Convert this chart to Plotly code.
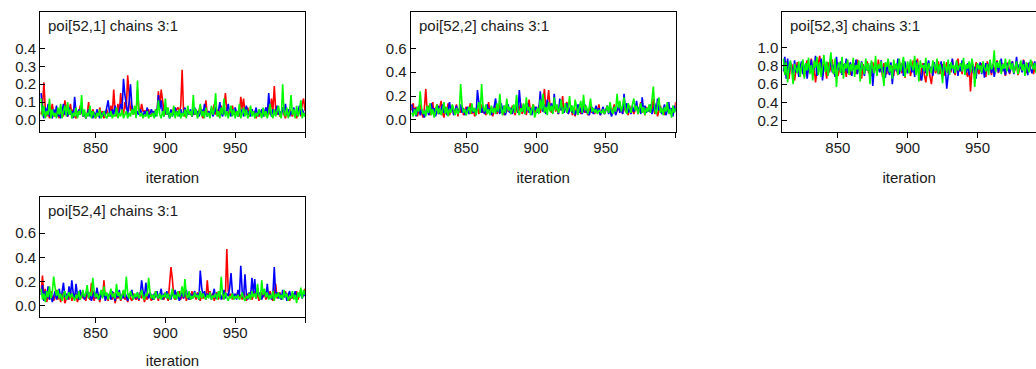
import plotly.graph_objects as go

# MCMC trace plots for poi[52,k], iterations 811-1000, three chains
iterations = list(range(811, 1001))

poi_52_1_chain1 = [
    0.03, 0.08, 0.21, 0.06, 0.02, 0.05, 0.01, 0.04, 0.09, 0.03,
    0.02, 0.06, 0.03, 0.01, 0.07, 0.04, 0.02, 0.11, 0.05, 0.02,
    0.04, 0.09, 0.03, 0.06, 0.02, 0.01, 0.05, 0.03, 0.08, 0.04,
    0.02, 0.05, 0.01, 0.03, 0.10, 0.04, 0.02, 0.06, 0.03, 0.01,
    0.04, 0.02, 0.07, 0.03, 0.05, 0.01, 0.03, 0.06, 0.02, 0.04,
    0.08, 0.03, 0.17, 0.05, 0.02, 0.09, 0.04, 0.15, 0.06, 0.03,
    0.10, 0.06, 0.25, 0.12, 0.05, 0.08, 0.03, 0.06, 0.02, 0.17,
    0.07, 0.04, 0.09, 0.05, 0.05, 0.05, 0.04, 0.06, 0.02, 0.03,
    0.05, 0.02, 0.06, 0.04, 0.16, 0.08, 0.17, 0.09, 0.05, 0.03,
    0.07, 0.04, 0.02, 0.05, 0.03, 0.07, 0.04, 0.06, 0.07, 0.04,
    0.08, 0.28, 0.05, 0.02, 0.04, 0.06, 0.03, 0.05, 0.02, 0.04,
    0.03, 0.06, 0.02, 0.05, 0.08, 0.03, 0.01, 0.04, 0.11, 0.03,
    0.05, 0.02, 0.07, 0.04, 0.09, 0.03, 0.06, 0.02, 0.05, 0.08,
    0.04, 0.07, 0.15, 0.05, 0.02, 0.06, 0.03, 0.08, 0.04, 0.06,
    0.03, 0.05, 0.02, 0.13, 0.06, 0.12, 0.04, 0.03, 0.07, 0.02,
    0.04, 0.06, 0.03, 0.05, 0.01, 0.04, 0.02, 0.05, 0.03, 0.06,
    0.02, 0.07, 0.04, 0.09, 0.03, 0.12, 0.05, 0.19, 0.06, 0.03,
    0.05, 0.02, 0.04, 0.07, 0.03, 0.01, 0.05, 0.02, 0.06, 0.04,
    0.02, 0.05, 0.03, 0.01, 0.04, 0.07, 0.02, 0.09, 0.12, 0.05,
]
poi_52_1_chain2 = [
    0.15, 0.04, 0.01, 0.07, 0.03, 0.09, 0.02, 0.05, 0.01, 0.06,
    0.03, 0.08, 0.02, 0.04, 0.01, 0.06, 0.09, 0.03, 0.05, 0.02,
    0.07, 0.03, 0.05, 0.01, 0.13, 0.04, 0.02, 0.06, 0.03, 0.08,
    0.02, 0.04, 0.01, 0.03, 0.06, 0.02, 0.05, 0.01, 0.04, 0.02,
    0.06, 0.03, 0.01, 0.04, 0.02, 0.05, 0.03, 0.07, 0.11, 0.04,
    0.02, 0.06, 0.03, 0.08, 0.04, 0.02, 0.05, 0.09, 0.06, 0.23,
    0.14, 0.07, 0.03, 0.10, 0.20, 0.08, 0.04, 0.06, 0.02, 0.05,
    0.03, 0.06, 0.04, 0.02, 0.05, 0.03, 0.07, 0.02, 0.04, 0.06,
    0.03, 0.05, 0.02, 0.04, 0.14, 0.06, 0.11, 0.04, 0.02, 0.07,
    0.03, 0.05, 0.01, 0.06, 0.02, 0.04, 0.07, 0.03, 0.05, 0.02,
    0.06, 0.03, 0.04, 0.07, 0.02, 0.05, 0.03, 0.06, 0.02, 0.04,
    0.07, 0.03, 0.05, 0.02, 0.04, 0.06, 0.03, 0.09, 0.04, 0.02,
    0.05, 0.03, 0.06, 0.02, 0.04, 0.07, 0.03, 0.05, 0.10, 0.04,
    0.02, 0.06, 0.03, 0.05, 0.09, 0.04, 0.02, 0.06, 0.03, 0.07,
    0.04, 0.02, 0.05, 0.03, 0.06, 0.02, 0.04, 0.08, 0.03, 0.05,
    0.02, 0.06, 0.03, 0.04, 0.07, 0.02, 0.05, 0.03, 0.06, 0.02,
    0.04, 0.07, 0.03, 0.15, 0.05, 0.02, 0.06, 0.03, 0.04, 0.08,
    0.03, 0.05, 0.02, 0.07, 0.04, 0.09, 0.03, 0.06, 0.02, 0.05,
    0.03, 0.07, 0.02, 0.05, 0.04, 0.08, 0.03, 0.06, 0.04, 0.02,
]
poi_52_1_chain3 = [
    0.12, 0.02, 0.08, 0.01, 0.05, 0.03, 0.12, 0.01, 0.06, 0.02,
    0.04, 0.01, 0.07, 0.03, 0.09, 0.01, 0.05, 0.08, 0.02, 0.10,
    0.03, 0.06, 0.01, 0.04, 0.02, 0.07, 0.01, 0.05, 0.03, 0.14,
    0.02, 0.06, 0.01, 0.04, 0.02, 0.08, 0.01, 0.05, 0.03, 0.01,
    0.04, 0.02, 0.06, 0.01, 0.03, 0.05, 0.02, 0.01, 0.04, 0.02,
    0.05, 0.01, 0.03, 0.02, 0.07, 0.01, 0.04, 0.02, 0.06, 0.01,
    0.03, 0.05, 0.01, 0.04, 0.02, 0.06, 0.03, 0.08, 0.01, 0.22,
    0.05, 0.02, 0.04, 0.01, 0.03, 0.02, 0.05, 0.01, 0.03, 0.02,
    0.04, 0.01, 0.06, 0.02, 0.11, 0.03, 0.01, 0.05, 0.02, 0.12,
    0.03, 0.07, 0.01, 0.04, 0.02, 0.08, 0.01, 0.05, 0.02, 0.06,
    0.01, 0.04, 0.02, 0.06, 0.01, 0.08, 0.03, 0.05, 0.02, 0.14,
    0.03, 0.06, 0.01, 0.04, 0.09, 0.02, 0.05, 0.01, 0.07, 0.02,
    0.04, 0.01, 0.08, 0.03, 0.06, 0.15, 0.02, 0.05, 0.01, 0.07,
    0.03, 0.12, 0.02, 0.05, 0.01, 0.04, 0.08, 0.02, 0.06, 0.01,
    0.05, 0.02, 0.09, 0.01, 0.04, 0.07, 0.02, 0.06, 0.01, 0.03,
    0.08, 0.02, 0.05, 0.01, 0.04, 0.02, 0.06, 0.03, 0.01, 0.07,
    0.02, 0.05, 0.01, 0.04, 0.09, 0.03, 0.01, 0.06, 0.02, 0.05,
    0.08, 0.03, 0.01, 0.20, 0.04, 0.02, 0.07, 0.01, 0.05, 0.14,
    0.03, 0.06, 0.01, 0.08, 0.02, 0.05, 0.11, 0.01, 0.04, 0.02,
]

poi_52_2_chain1 = [
    0.08, 0.14, 0.05, 0.11, 0.03, 0.09, 0.13, 0.06, 0.02, 0.10,
    0.26, 0.07, 0.12, 0.04, 0.09, 0.15, 0.03, 0.08, 0.13, 0.05,
    0.10, 0.16, 0.06, 0.02, 0.11, 0.07, 0.14, 0.04, 0.09, 0.12,
    0.05, 0.08, 0.13, 0.03, 0.10, 0.06, 0.12, 0.04, 0.08, 0.11,
    0.06, 0.09, 0.14, 0.05, 0.10, 0.03, 0.07, 0.12, 0.05, 0.09,
    0.13, 0.06, 0.10, 0.04, 0.08, 0.15, 0.06, 0.11, 0.03, 0.09,
    0.12, 0.05, 0.08, 0.14, 0.06, 0.10, 0.04, 0.09, 0.13, 0.07,
    0.10, 0.05, 0.12, 0.08, 0.04, 0.11, 0.06, 0.09, 0.14, 0.05,
    0.08, 0.12, 0.04, 0.10, 0.17, 0.06, 0.09, 0.13, 0.05, 0.11,
    0.07, 0.12, 0.06, 0.10, 0.16, 0.26, 0.08, 0.14, 0.25, 0.11,
    0.06, 0.09, 0.14, 0.07, 0.11, 0.05, 0.13, 0.08, 0.20, 0.06,
    0.10, 0.15, 0.05, 0.09, 0.12, 0.04, 0.08, 0.03, 0.11, 0.07,
    0.13, 0.05, 0.09, 0.16, 0.06, 0.10, 0.04, 0.08, 0.12, 0.06,
    0.09, 0.05, 0.11, 0.07, 0.13, 0.04, 0.08, 0.10, 0.05, 0.09,
    0.12, 0.06, 0.10, 0.04, 0.08, 0.13, 0.05, 0.09, 0.11, 0.07,
    0.10, 0.05, 0.14, 0.07, 0.09, 0.04, 0.12, 0.06, 0.10, 0.05,
    0.08, 0.12, 0.05, 0.10, 0.15, 0.06, 0.09, 0.04, 0.11, 0.07,
    0.12, 0.06, 0.09, 0.18, 0.05, 0.10, 0.03, 0.08, 0.12, 0.06,
    0.09, 0.04, 0.11, 0.07, 0.13, 0.05, 0.08, 0.10, 0.06, 0.15,
]
poi_52_2_chain2 = [
    0.13, 0.05, 0.10, 0.03, 0.08, 0.12, 0.04, 0.09, 0.06, 0.02,
    0.07, 0.11, 0.04, 0.09, 0.14, 0.06, 0.10, 0.03, 0.08, 0.12,
    0.05, 0.09, 0.13, 0.06, 0.10, 0.04, 0.08, 0.15, 0.07, 0.11,
    0.04, 0.08, 0.12, 0.05, 0.09, 0.13, 0.06, 0.10, 0.04, 0.07,
    0.11, 0.05, 0.08, 0.12, 0.06, 0.10, 0.04, 0.25, 0.15, 0.09,
    0.06, 0.12, 0.05, 0.09, 0.13, 0.07, 0.10, 0.04, 0.08, 0.11,
    0.18, 0.07, 0.10, 0.05, 0.14, 0.08, 0.12, 0.04, 0.09, 0.13,
    0.06, 0.10, 0.05, 0.12, 0.08, 0.16, 0.06, 0.25, 0.11, 0.07,
    0.13, 0.05, 0.09, 0.14, 0.06, 0.10, 0.04, 0.12, 0.08, 0.11,
    0.06, 0.09, 0.24, 0.10, 0.07, 0.13, 0.05, 0.17, 0.11, 0.08,
    0.14, 0.06, 0.22, 0.09, 0.12, 0.05, 0.18, 0.08, 0.11, 0.06,
    0.10, 0.14, 0.05, 0.08, 0.12, 0.06, 0.10, 0.04, 0.09, 0.13,
    0.06, 0.10, 0.05, 0.08, 0.13, 0.06, 0.09, 0.04, 0.08, 0.11,
    0.05, 0.09, 0.12, 0.06, 0.10, 0.04, 0.07, 0.11, 0.05, 0.08,
    0.12, 0.05, 0.09, 0.03, 0.07, 0.11, 0.04, 0.08, 0.12, 0.06,
    0.10, 0.05, 0.22, 0.08, 0.14, 0.06, 0.10, 0.05, 0.12, 0.07,
    0.09, 0.16, 0.06, 0.11, 0.05, 0.19, 0.08, 0.12, 0.06, 0.10,
    0.07, 0.13, 0.05, 0.09, 0.14, 0.06, 0.18, 0.08, 0.11, 0.05,
    0.09, 0.13, 0.04, 0.08, 0.15, 0.06, 0.10, 0.03, 0.12, 0.07,
]
poi_52_2_chain3 = [
    0.06, 0.03, 0.09, 0.04, 0.11, 0.07, 0.24, 0.10, 0.05, 0.08,
    0.03, 0.12, 0.06, 0.14, 0.04, 0.09, 0.02, 0.07, 0.13, 0.05,
    0.10, 0.04, 0.08, 0.15, 0.05, 0.11, 0.03, 0.09, 0.06, 0.13,
    0.07, 0.04, 0.10, 0.05, 0.08, 0.30, 0.12, 0.06, 0.09, 0.04,
    0.08, 0.11, 0.05, 0.14, 0.07, 0.10, 0.04, 0.09, 0.15, 0.06,
    0.30, 0.11, 0.07, 0.13, 0.05, 0.09, 0.04, 0.12, 0.06, 0.10,
    0.05, 0.14, 0.07, 0.22, 0.09, 0.04, 0.12, 0.06, 0.18, 0.08,
    0.11, 0.05, 0.09, 0.13, 0.06, 0.21, 0.08, 0.04, 0.10, 0.07,
    0.14, 0.05, 0.19, 0.08, 0.11, 0.04, 0.09, 0.13, 0.02, 0.07,
    0.10, 0.05, 0.17, 0.08, 0.22, 0.06, 0.11, 0.04, 0.15, 0.07,
    0.12, 0.05, 0.19, 0.08, 0.13, 0.06, 0.10, 0.17, 0.05, 0.09,
    0.14, 0.06, 0.10, 0.20, 0.07, 0.12, 0.05, 0.17, 0.09, 0.04,
    0.11, 0.16, 0.06, 0.21, 0.08, 0.12, 0.05, 0.10, 0.18, 0.07,
    0.10, 0.06, 0.09, 0.05, 0.08, 0.07, 0.06, 0.09, 0.05, 0.08,
    0.12, 0.06, 0.15, 0.08, 0.05, 0.11, 0.07, 0.22, 0.10, 0.16,
    0.07, 0.12, 0.19, 0.08, 0.05, 0.14, 0.09, 0.06, 0.13, 0.18,
    0.08, 0.12, 0.05, 0.09, 0.14, 0.06, 0.11, 0.04, 0.10, 0.07,
    0.13, 0.06, 0.17, 0.28, 0.09, 0.05, 0.12, 0.19, 0.06, 0.10,
    0.04, 0.11, 0.07, 0.15, 0.05, 0.09, 0.02, 0.12, 0.06, 0.10,
]

poi_52_3_chain1 = [
    0.80, 0.72, 0.85, 0.68, 0.66, 0.78, 0.82, 0.70, 0.64, 0.76,
    0.84, 0.79, 0.71, 0.83, 0.75, 0.68, 0.81, 0.86, 0.73, 0.77,
    0.88, 0.70, 0.79, 0.62, 0.74, 0.85, 0.91, 0.76, 0.69, 0.82,
    0.78, 0.66, 0.84, 0.73, 0.80, 0.87, 0.71, 0.77, 0.83, 0.69,
    0.75, 0.81, 0.86, 0.72, 0.79, 0.68, 0.84, 0.77, 0.70, 0.82,
    0.76, 0.83, 0.71, 0.87, 0.74, 0.79, 0.66, 0.82, 0.75, 0.80,
    0.85, 0.72, 0.78, 0.69, 0.84, 0.76, 0.81, 0.70, 0.87, 0.74,
    0.79, 0.68, 0.83, 0.75, 0.71, 0.86, 0.77, 0.73, 0.80, 0.69,
    0.82, 0.76, 0.70, 0.85, 0.78, 0.72, 0.84, 0.67, 0.79, 0.74,
    0.81, 0.69, 0.76, 0.86, 0.73, 0.80, 0.88, 0.71, 0.64, 0.77,
    0.83, 0.70, 0.62, 0.75, 0.81, 0.68, 0.60, 0.74, 0.79, 0.72,
    0.78, 0.85, 0.71, 0.77, 0.82, 0.69, 0.75, 0.84, 0.72, 0.79,
    0.73, 0.87, 0.76, 0.70, 0.82, 0.88, 0.74, 0.79, 0.71, 0.84,
    0.77, 0.72, 0.68, 0.82, 0.52, 0.75, 0.80, 0.70, 0.84, 0.76,
    0.71, 0.79, 0.83, 0.73, 0.78, 0.68, 0.85, 0.76, 0.81, 0.70,
    0.82, 0.75, 0.79, 0.86, 0.72, 0.80, 0.74, 0.83, 0.77, 0.69,
    0.78, 0.84, 0.71, 0.80, 0.85, 0.73, 0.79, 0.82, 0.70, 0.76,
    0.81, 0.74, 0.87, 0.78, 0.72, 0.83, 0.76, 0.80, 0.85, 0.71,
    0.77, 0.82, 0.74, 0.79, 0.86, 0.73, 0.80, 0.84, 0.75, 0.81,
]
poi_52_3_chain2 = [
    0.74, 0.90, 0.66, 0.88, 0.72, 0.84, 0.77, 0.70, 0.86, 0.73,
    0.81, 0.68, 0.79, 0.85, 0.71, 0.77, 0.83, 0.66, 0.80, 0.74,
    0.87, 0.72, 0.78, 0.91, 0.69, 0.82, 0.75, 0.88, 0.64, 0.80,
    0.76, 0.84, 0.71, 0.79, 0.86, 0.73, 0.81, 0.68, 0.90, 0.75,
    0.78, 0.85, 0.70, 0.82, 0.74, 0.88, 0.72, 0.79, 0.84, 0.69,
    0.83, 0.76, 0.87, 0.71, 0.80, 0.74, 0.85, 0.78, 0.69, 0.82,
    0.75, 0.81, 0.68, 0.84, 0.58, 0.77, 0.83, 0.71, 0.80, 0.73,
    0.86, 0.72, 0.79, 0.67, 0.82, 0.75, 0.70, 0.84, 0.60, 0.77,
    0.81, 0.74, 0.88, 0.71, 0.78, 0.83, 0.69, 0.85, 0.76, 0.72,
    0.79, 0.84, 0.73, 0.80, 0.68, 0.86, 0.75, 0.81, 0.70, 0.64,
    0.77, 0.83, 0.72, 0.80, 0.86, 0.74, 0.79, 0.69, 0.84, 0.76,
    0.81, 0.71, 0.78, 0.85, 0.73, 0.80, 0.76, 0.55, 0.70, 0.82,
    0.75, 0.88, 0.72, 0.79, 0.84, 0.69, 0.81, 0.74, 0.86, 0.77,
    0.80, 0.73, 0.83, 0.70, 0.78, 0.85, 0.72, 0.79, 0.66, 0.82,
    0.76, 0.84, 0.71, 0.80, 0.67, 0.83, 0.75, 0.79, 0.86, 0.72,
    0.81, 0.68, 0.77, 0.85, 0.73, 0.80, 0.88, 0.74, 0.79, 0.70,
    0.83, 0.76, 0.72, 0.80, 0.85, 0.71, 0.78, 0.90, 0.74, 0.82,
    0.79, 0.73, 0.86, 0.76, 0.81, 0.70, 0.84, 0.77, 0.72, 0.80,
    0.85, 0.74, 0.79, 0.83, 0.71, 0.87, 0.76, 0.80, 0.73, 0.82,
]
poi_52_3_chain3 = [
    0.88, 0.70, 0.84, 0.62, 0.79, 0.86, 0.74, 0.60, 0.82, 0.77,
    0.72, 0.85, 0.68, 0.80, 0.87, 0.66, 0.83, 0.75, 0.89, 0.71,
    0.81, 0.64, 0.86, 0.78, 0.90, 0.70, 0.84, 0.68, 0.79, 0.92,
    0.73, 0.85, 0.69, 0.82, 0.95, 0.76, 0.71, 0.88, 0.57, 0.80,
    0.84, 0.72, 0.90, 0.66, 0.83, 0.77, 0.87, 0.70, 0.82, 0.74,
    0.89, 0.68, 0.81, 0.76, 0.86, 0.63, 0.84, 0.79, 0.71, 0.88,
    0.75, 0.83, 0.60, 0.86, 0.78, 0.72, 0.91, 0.69, 0.82, 0.77,
    0.85, 0.70, 0.58, 0.84, 0.79, 0.88, 0.73, 0.81, 0.66, 0.87,
    0.76, 0.83, 0.70, 0.88, 0.74, 0.82, 0.90, 0.68, 0.79, 0.85,
    0.72, 0.87, 0.80, 0.75, 0.91, 0.70, 0.84, 0.63, 0.86, 0.78,
    0.81, 0.74, 0.89, 0.69, 0.83, 0.77, 0.72, 0.86, 0.80, 0.74,
    0.88, 0.71, 0.82, 0.76, 0.61, 0.85, 0.79, 0.73, 0.87, 0.70,
    0.84, 0.77, 0.81, 0.72, 0.86, 0.75, 0.80, 0.83, 0.74, 0.89,
    0.70, 0.82, 0.77, 0.85, 0.73, 0.88, 0.80, 0.57, 0.75, 0.83,
    0.76, 0.81, 0.72, 0.85, 0.78, 0.74, 0.82, 0.70, 0.87, 0.76,
    0.80, 0.97, 0.73, 0.84, 0.78, 0.86, 0.71, 0.82, 0.77, 0.88,
    0.74, 0.81, 0.87, 0.76, 0.83, 0.72, 0.79, 0.85, 0.71, 0.80,
    0.86, 0.75, 0.82, 0.69, 0.84, 0.78, 0.73, 0.87, 0.80, 0.76,
    0.83, 0.72, 0.79, 0.86, 0.74, 0.81, 0.77, 0.85, 0.70, 0.79,
]

poi_52_4_chain1 = [
    0.11, 0.25, 0.06, 0.14, 0.03, 0.09, 0.05, 0.12, 0.07, 0.04,
    0.08, 0.13, 0.05, 0.10, 0.03, 0.07, 0.11, 0.02, 0.06, 0.09,
    0.05, 0.12, 0.04, 0.08, 0.06, 0.10, 0.03, 0.07, 0.05, 0.11,
    0.06, 0.09, 0.04, 0.12, 0.07, 0.05, 0.19, 0.08, 0.04, 0.10,
    0.06, 0.09, 0.03, 0.11, 0.07, 0.21, 0.05, 0.08, 0.04, 0.10,
    0.07, 0.05, 0.11, 0.02, 0.08, 0.06, 0.10, 0.04, 0.07, 0.12,
    0.05, 0.08, 0.03, 0.09, 0.06, 0.04, 0.10, 0.07, 0.05, 0.08,
    0.04, 0.11, 0.06, 0.09, 0.03, 0.08, 0.05, 0.10, 0.07, 0.04,
    0.09, 0.05, 0.12, 0.07, 0.04, 0.10, 0.06, 0.08, 0.05, 0.11,
    0.07, 0.04, 0.18, 0.32, 0.22, 0.08, 0.05, 0.11, 0.07, 0.12,
    0.05, 0.09, 0.06, 0.13, 0.04, 0.08, 0.10, 0.05, 0.12, 0.07,
    0.09, 0.05, 0.11, 0.07, 0.04, 0.10, 0.06, 0.09, 0.05, 0.21,
    0.08, 0.12, 0.06, 0.10, 0.04, 0.08, 0.11, 0.05, 0.09, 0.07,
    0.06, 0.11, 0.08, 0.47, 0.12, 0.07, 0.10, 0.05, 0.09, 0.06,
    0.08, 0.12, 0.06, 0.09, 0.05, 0.11, 0.07, 0.04, 0.10, 0.06,
    0.09, 0.05, 0.08, 0.12, 0.06, 0.10, 0.04, 0.08, 0.11, 0.07,
    0.10, 0.05, 0.09, 0.06, 0.12, 0.07, 0.04, 0.09, 0.18, 0.06,
    0.08, 0.11, 0.05, 0.09, 0.07, 0.12, 0.06, 0.10, 0.04, 0.08,
    0.06, 0.10, 0.07, 0.12, 0.05, 0.09, 0.13, 0.07, 0.11, 0.14,
]
poi_52_4_chain2 = [
    0.09, 0.17, 0.04, 0.12, 0.06, 0.16, 0.05, 0.10, 0.03, 0.08,
    0.12, 0.05, 0.09, 0.14, 0.06, 0.11, 0.19, 0.07, 0.10, 0.05,
    0.16, 0.08, 0.21, 0.10, 0.06, 0.18, 0.09, 0.05, 0.13, 0.07,
    0.10, 0.05, 0.09, 0.14, 0.06, 0.11, 0.04, 0.08, 0.12, 0.06,
    0.15, 0.08, 0.05, 0.11, 0.07, 0.13, 0.04, 0.09, 0.06, 0.10,
    0.05, 0.12, 0.08, 0.04, 0.10, 0.07, 0.13, 0.05, 0.09, 0.06,
    0.11, 0.07, 0.04, 0.10, 0.08, 0.13, 0.05, 0.09, 0.06, 0.11,
    0.05, 0.09, 0.21, 0.12, 0.07, 0.19, 0.10, 0.06, 0.11, 0.08,
    0.05, 0.10, 0.07, 0.12, 0.06, 0.09, 0.14, 0.05, 0.10, 0.07,
    0.12, 0.06, 0.09, 0.05, 0.11, 0.08, 0.13, 0.06, 0.10, 0.04,
    0.08, 0.11, 0.06, 0.09, 0.13, 0.07, 0.05, 0.10, 0.06, 0.09,
    0.12, 0.07, 0.10, 0.05, 0.29, 0.15, 0.08, 0.12, 0.06, 0.10,
    0.07, 0.11, 0.05, 0.09, 0.14, 0.06, 0.10, 0.08, 0.12, 0.05,
    0.09, 0.13, 0.06, 0.10, 0.08, 0.14, 0.27, 0.11, 0.07, 0.10,
    0.05, 0.13, 0.08, 0.33, 0.12, 0.06, 0.26, 0.09, 0.05, 0.11,
    0.07, 0.23, 0.10, 0.22, 0.06, 0.14, 0.08, 0.11, 0.05, 0.09,
    0.12, 0.07, 0.18, 0.06, 0.10, 0.05, 0.09, 0.32, 0.08, 0.11,
    0.06, 0.10, 0.05, 0.13, 0.07, 0.11, 0.04, 0.09, 0.12, 0.06,
    0.10, 0.07, 0.12, 0.05, 0.09, 0.08, 0.11, 0.06, 0.10, 0.08,
]
poi_52_4_chain3 = [
    0.14, 0.05, 0.10, 0.03, 0.12, 0.07, 0.16, 0.06, 0.11, 0.24,
    0.15, 0.08, 0.13, 0.06, 0.10, 0.04, 0.09, 0.12, 0.05, 0.08,
    0.11, 0.06, 0.10, 0.07, 0.04, 0.09, 0.06, 0.12, 0.05, 0.08,
    0.13, 0.07, 0.10, 0.17, 0.06, 0.11, 0.08, 0.23, 0.12, 0.07,
    0.10, 0.05, 0.09, 0.13, 0.06, 0.16, 0.08, 0.11, 0.05, 0.09,
    0.14, 0.07, 0.10, 0.06, 0.18, 0.08, 0.11, 0.05, 0.09, 0.13,
    0.07, 0.24, 0.10, 0.06, 0.12, 0.08, 0.05, 0.10, 0.07, 0.11,
    0.06, 0.09, 0.13, 0.07, 0.05, 0.10, 0.08, 0.23, 0.11, 0.06,
    0.09, 0.05, 0.12, 0.08, 0.06, 0.10, 0.05, 0.09, 0.07, 0.11,
    0.06, 0.10, 0.05, 0.08, 0.14, 0.06, 0.09, 0.05, 0.12, 0.07,
    0.10, 0.16, 0.07, 0.22, 0.09, 0.06, 0.12, 0.05, 0.08, 0.06,
    0.11, 0.07, 0.09, 0.05, 0.12, 0.06, 0.10, 0.07, 0.05, 0.09,
    0.06, 0.11, 0.05, 0.08, 0.07, 0.10, 0.05, 0.12, 0.06, 0.24,
    0.09, 0.05, 0.11, 0.07, 0.04, 0.08, 0.06, 0.10, 0.05, 0.08,
    0.06, 0.09, 0.05, 0.07, 0.11, 0.06, 0.04, 0.08, 0.06, 0.10,
    0.05, 0.12, 0.07, 0.10, 0.06, 0.18, 0.08, 0.05, 0.21, 0.09,
    0.14, 0.07, 0.11, 0.05, 0.09, 0.06, 0.12, 0.04, 0.10, 0.07,
    0.11, 0.06, 0.09, 0.05, 0.13, 0.07, 0.10, 0.04, 0.08, 0.06,
    0.12, 0.05, 0.09, 0.02, 0.11, 0.07, 0.15, 0.06, 0.13, 0.09,
]

panel_titles = ["poi[52,1] chains 3:1", "poi[52,2] chains 3:1",
                "poi[52,3] chains 3:1", "poi[52,4] chains 3:1"]
panel_series = [
    [poi_52_1_chain1, poi_52_1_chain2, poi_52_1_chain3],
    [poi_52_2_chain1, poi_52_2_chain2, poi_52_2_chain3],
    [poi_52_3_chain1, poi_52_3_chain2, poi_52_3_chain3],
    [poi_52_4_chain1, poi_52_4_chain2, poi_52_4_chain3],
]
y_tick_values = [
    [0.0, 0.1, 0.2, 0.3, 0.4],
    [0.0, 0.2, 0.4, 0.6],
    [0.2, 0.4, 0.6, 0.8, 1.0],
    [0.0, 0.2, 0.4, 0.6],
]
x_tick_values = [850, 900, 950, 1000]
x_tick_text = ["850", "900", "950", ""]

chain_colors = ["#ff0000", "#0000ff", "#00ff00"]

# ---- layout geometry (pixels) ----
W, H = 1036, 369
PX_PER_ITER = 265 / 189.8
X_START = 810.2
boxes = [  # left, right, top, bottom
    (40, 305, 12, 131.7),
    (410.7, 675.7, 12, 131.7),
    (782.3, 1036, 12, 131.7),
    (40, 305, 197, 317),
]
y_ranges = [(-0.065, 0.603), (-0.098, 0.904), (0.079, 1.391), (-0.094, 0.90)]

FONT = "Arial, Liberation Sans, Helvetica, sans-serif"
TXT = "#1a1a1a"
TICK_SIZE = 15
TITLE_SIZE = 15
AXIS_TITLE_SIZE = 15

fig = go.Figure()
layout = dict(
    width=W, height=H, margin=dict(l=0, r=0, t=0, b=0),
    paper_bgcolor="white", plot_bgcolor="white", showlegend=False,
    font=dict(family=FONT, size=15, color=TXT),
)
annotations = []
for i, (series, title, yticks, box, yr) in enumerate(
        zip(panel_series, panel_titles, y_tick_values, boxes, y_ranges)):
    n = "" if i == 0 else str(i + 1)
    xa, ya = "x" + n, "y" + n
    for chain, color in zip(series, chain_colors):
        fig.add_trace(go.Scatter(
            x=iterations, y=chain, mode="lines", xaxis=xa, yaxis=ya,
            line=dict(color=color, width=1.6), hoverinfo="skip"))
    left, right, top, bottom = box
    x_end = X_START + (right - left) / PX_PER_ITER
    layout["xaxis" + n] = dict(
        domain=[left / W, right / W], anchor=ya, range=[X_START, x_end],
        tickvals=x_tick_values, ticktext=x_tick_text,
        ticks="outside", ticklen=5, tickcolor="black",
        showline=True, linecolor="black", linewidth=1, mirror=True,
        showgrid=False, zeroline=False,
        title=dict(text="iteration", standoff=17,
                   font=dict(size=AXIS_TITLE_SIZE, family=FONT, color=TXT)),
        tickfont=dict(size=TICK_SIZE, family=FONT, color=TXT),
        ticklabelstandoff=-3,
    )
    layout["yaxis" + n] = dict(
        domain=[1 - bottom / H, 1 - top / H], anchor=xa, range=list(yr),
        tickvals=yticks, tickformat=".1f",
        ticks="inside", ticklen=5, tickcolor="black",
        showline=True, linecolor="black", linewidth=1, mirror=(i != 2),
        showgrid=False, zeroline=False, ticklabelstandoff=0,
        tickfont=dict(size=TICK_SIZE, family=FONT, color=TXT),
    )
    annotations.append(dict(
        text=title, xref=xa + " domain", yref=ya + " domain",
        x=0, y=1, xanchor="left", yanchor="top", xshift=6, yshift=-3,
        showarrow=False, font=dict(size=TITLE_SIZE, family=FONT, color=TXT)))
layout["annotations"] = annotations
fig.update_layout(**layout)

fig.write_html("out.html")
